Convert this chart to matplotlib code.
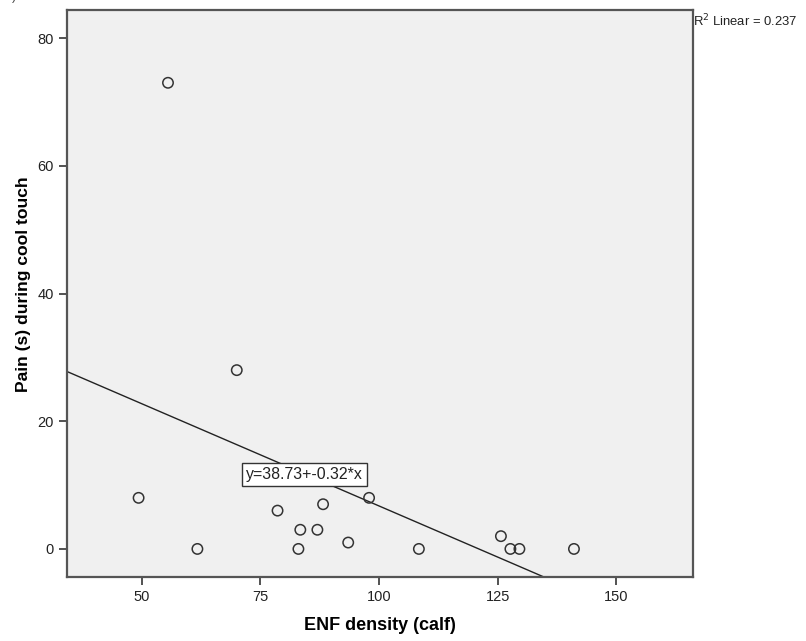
import matplotlib
matplotlib.use("Agg")
import matplotlib.pyplot as plt

plt.rcParams['font.family'] = ['Liberation Sans', 'DejaVu Sans']

# ENF density (calf) vs. pain duration during cool touch
enf_density = [55.5, 70.0, 49.3, 61.7, 78.6, 83.4, 87.0, 88.2, 83.0, 93.5,
               97.9, 108.4, 125.7, 127.7, 129.6, 141.1]
pain_seconds = [73, 28, 8, 0, 6, 3, 3, 7, 0, 1, 8, 0, 2, 0, 0, 0]

intercept = 38.73
slope = -0.32
r_squared = 0.237

x_ticks = [50, 75, 100, 125, 150]
y_ticks = [0, 20, 40, 60, 80]

fig = plt.figure(figsize=(8.06, 6.41), dpi=100)
ax = fig.add_axes([0.0831, 0.0998, 0.7767, 0.8846])
ax.set_facecolor('#f0f0f0')

xlim = (34.2, 166.2)
ylim = (-4.4, 84.4)
ax.set_xlim(*xlim)
ax.set_ylim(*ylim)

ax.scatter(enf_density, pain_seconds, s=56, facecolors='none',
           edgecolors='#333333', linewidths=1.1, zorder=3)

# Linear fit line across the full x range
fx = [xlim[0], xlim[1]]
fy = [intercept + slope * v for v in fx]
ax.plot(fx, fy, color='#222222', linewidth=1.0, zorder=2)

ax.text(84.3, 11.7, f"y={intercept:.2f}+{slope:.2f}*x", fontsize=11.4,
        ha='center', va='center', zorder=4, color='#222222',
        bbox=dict(boxstyle='square,pad=0.25', facecolor='white',
                  edgecolor='#333333', linewidth=1.0))

for side in ['left', 'bottom', 'right', 'top']:
    ax.spines[side].set_color('#555555')
    ax.spines[side].set_linewidth(1.6)

ax.set_xticks(x_ticks)
ax.set_yticks(y_ticks)
ax.tick_params(axis='both', direction='out', length=6, width=1.3,
               color='#444444', labelsize=10.5, labelcolor='#222222')
ax.tick_params(top=False, right=False)

ax.set_xlabel("ENF density (calf)", fontsize=13, fontweight='bold')
ax.xaxis.set_label_coords(0.5, -0.0705)
ax.set_ylabel("Pain (s) during cool touch", fontsize=12.6, fontweight='bold')
ax.yaxis.set_label_coords(-0.0576, 0.517)

fig.text(0.86, 0.968, "R$^2$ Linear = 0.237", fontsize=9.4, ha='left',
         va='center', color='#222222')
fig.text(0.018, 1.004, ")", fontsize=9, ha='center', va='center',
         color='#444444')

fig.savefig("out.png", dpi=100)
